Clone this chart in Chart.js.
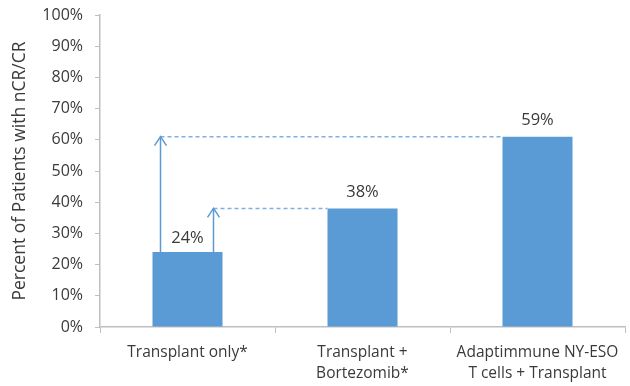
<!DOCTYPE html>
<html>
<head>
<meta charset="utf-8">
<script src="https://cdn.jsdelivr.net/npm/chart.js@4"></script>
<style>
  html, body { margin: 0; padding: 0; background: #fff; }
  #wrap { width: 630px; height: 386px; }
</style>
</head>
<body>
<div id="wrap"><canvas id="myChart" width="630" height="386"></canvas></div>
<script>
// data
var categories = [
    ['Transplant only*'],
    ['Transplant +', 'Bortezomib*'],
    ['Adaptimmune NY-ESO', 'T cells + Transplant']
];
var values = [24, 38, 61];
var valueLabels = ['24%', '38%', '59%'];
var yTicks = [0, 10, 20, 30, 40, 50, 60, 70, 80, 90, 100];
// arrows: from bar 0 up to the height of another bar
var arrowTargets = [2, 1];

var blue = '#5b9bd5';
var textColor = '#3a3a3a';
var axisColor = '#bfbfbf';
var fontFamily = '"Open Sans", Lato, sans-serif';

// value labels + arrows with dashed guide lines
var annotate = {
    id: 'annotate',
    afterDatasetsDraw: function(chart) {
        var ctx = chart.ctx;
        var bars = chart.getDatasetMeta(0).data;
        ctx.save();

        // arrows from bar 0
        var base = bars[0];
        var left = base.x - base.width / 2;
        var right = base.x + base.width / 2;
        arrowTargets.forEach(function(t, i) {
            var target = bars[t];
            var ax = i === 0 ? left + 8 : right - 9;
            var ty = target.y;
            // dashed guide
            ctx.strokeStyle = '#7fb0e0';
            ctx.lineWidth = 1.5;
            ctx.setLineDash([4, 3]);
            ctx.beginPath();
            ctx.moveTo(ax, ty);
            ctx.lineTo(target.x - target.width / 2, ty);
            ctx.stroke();
            // arrow shaft
            ctx.setLineDash([]);
            ctx.strokeStyle = blue;
            ctx.lineWidth = 1.5;
            ctx.beginPath();
            ctx.moveTo(ax, base.y);
            ctx.lineTo(ax, ty);
            ctx.stroke();
            // arrow head
            ctx.beginPath();
            ctx.moveTo(ax - 6, ty + 9);
            ctx.lineTo(ax, ty);
            ctx.lineTo(ax + 6, ty + 9);
            ctx.stroke();
        });

        // value labels
        ctx.fillStyle = textColor;
        ctx.font = '16.5px ' + fontFamily;
        ctx.textAlign = 'center';
        ctx.textBaseline = 'middle';
        bars.forEach(function(b, i) {
            var dy = i === 0 ? 14 : 16;
            ctx.fillText(valueLabels[i], b.x, b.y - dy);
        });
        ctx.restore();
    }
};

var data = {
    labels: categories,
    datasets: [{
        data: values,
        backgroundColor: blue,
        borderWidth: 0,
        categoryPercentage: 0.8,
        barPercentage: 0.5
    }]
};

var options = {
    responsive: false,
    animation: false,
    layout: { padding: { top: 15, right: 5, left: 0, bottom: 0 } },
    plugins: {
        legend: { display: false },
        tooltip: { enabled: false }
    },
    scales: {
        x: {
            grid: {
                offset: true,
                drawOnChartArea: false,
                drawTicks: true,
                tickLength: 6,
                color: axisColor
            },
            border: { color: axisColor, width: 1.5 },
            ticks: {
                color: textColor,
                font: { family: fontFamily, size: 15.5, lineHeight: 1.35 },
                padding: 9,
                maxRotation: 0
            },
            afterFit: function(scale) {
                scale.height = 59;
                scale.paddingLeft = 0;
                scale.paddingRight = 0;
            }
        },
        y: {
            min: 0,
            max: 100,
            afterBuildTicks: function(scale) {
                scale.ticks = yTicks.map(function(v) { return { value: v }; });
            },
            grid: {
                drawOnChartArea: false,
                drawTicks: true,
                tickLength: 5,
                color: axisColor
            },
            border: { color: axisColor, width: 1.5 },
            ticks: {
                color: textColor,
                font: { family: fontFamily, size: 16 },
                padding: 12,
                callback: function(v) { return v + '%'; }
            },
            title: {
                display: true,
                text: 'Percent of Patients with nCR/CR',
                color: textColor,
                font: { family: fontFamily, size: 17.5 },
                padding: { top: 10, bottom: 2 }
            },
            afterFit: function(scale) {
                scale.width = 100;
                scale.paddingTop = 0;
                scale.paddingBottom = 0;
            }
        }
    }
};

var ctx = document.getElementById('myChart').getContext('2d');
var myChart = new Chart(ctx, {
    type: 'bar',
    data: data,
    options: options,
    plugins: [annotate]
});
</script>
</body>
</html>
